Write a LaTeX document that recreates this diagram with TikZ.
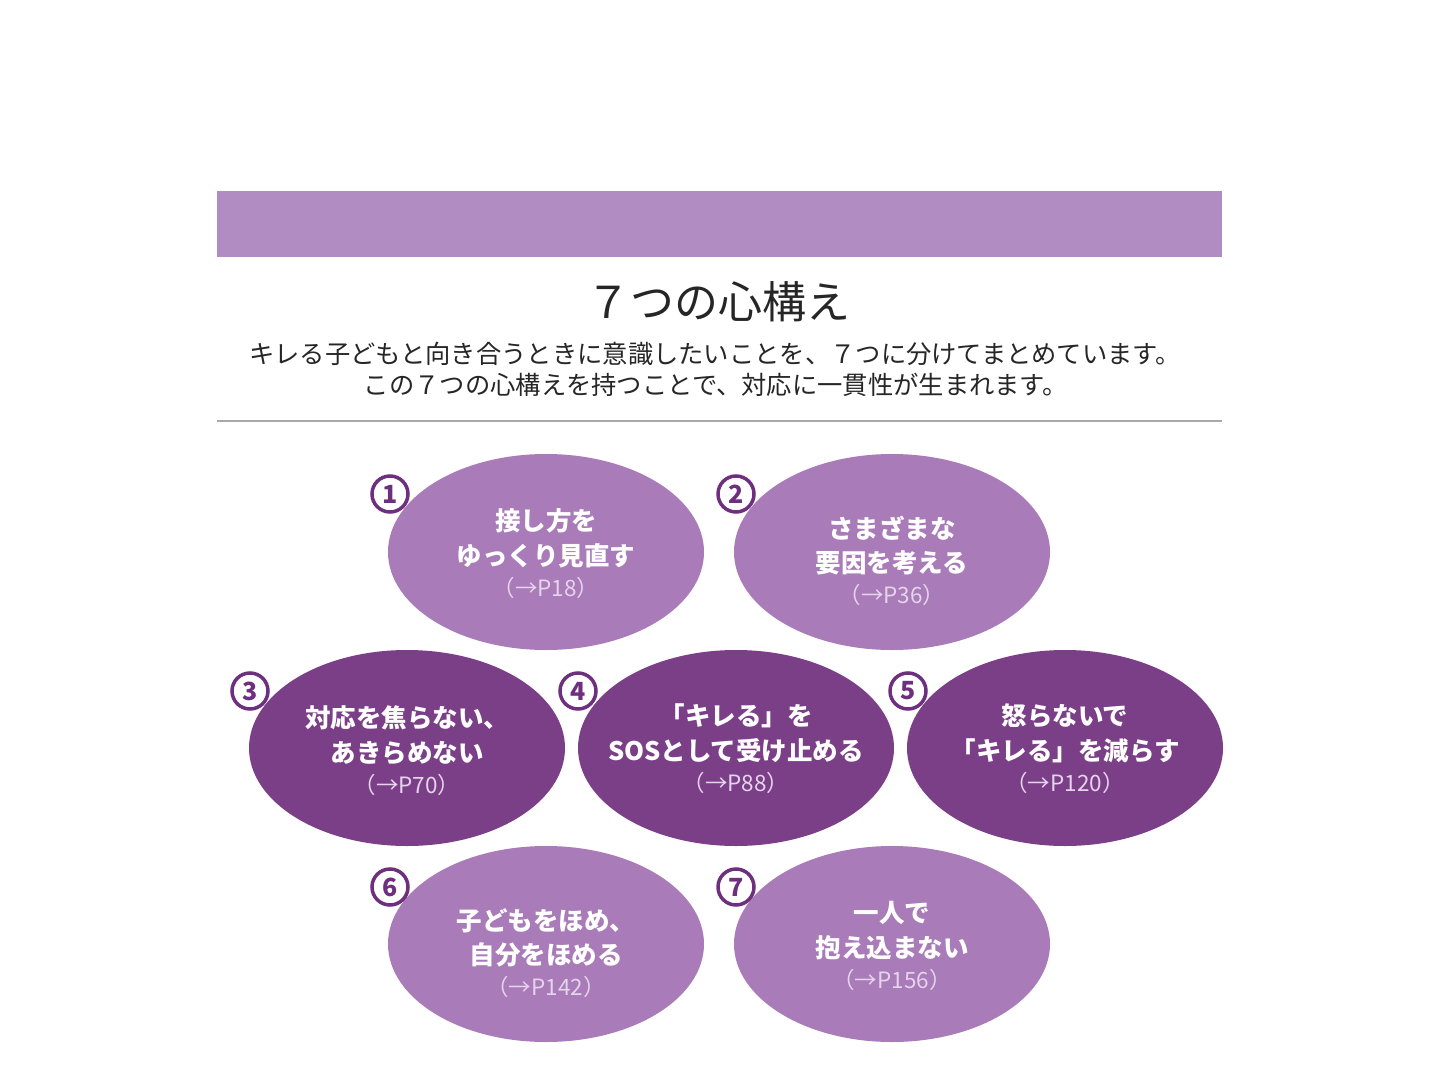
\documentclass[tikz,border=0pt]{standalone}
\usepackage{fontspec}
\setmainfont{Noto Sans CJK JP}
\usetikzlibrary{shapes.geometric}
\definecolor{barpurple}{HTML}{B08CC2}
\definecolor{lightpurple}{HTML}{A97BB8}
\definecolor{darkpurple}{HTML}{7B3F88}
\definecolor{numpurple}{HTML}{6E2F7E}
\definecolor{reftext}{HTML}{E6D4EC}
\definecolor{rulegrey}{HTML}{A8A8A8}
\tikzset{
  oval/.style={ellipse, minimum width=316pt, minimum height=196pt, inner sep=0pt},
  lightoval/.style={oval, fill=lightpurple},
  darkoval/.style={oval, fill=darkpurple},
  mainline/.style={text=white, font=\fontsize{25.5}{28}\selectfont\bfseries, inner sep=0pt},
  refline/.style={text=reftext, font=\fontsize{22.5}{24}\selectfont, inner sep=0pt},
  numbadge/.style={circle, draw=numpurple, line width=3.5pt, fill=white, minimum size=36pt, inner sep=0pt,
    text=numpurple, font=\fontsize{25}{25}\selectfont\bfseries},
}
\begin{document}
\begin{tikzpicture}[x=1pt,y=-1pt]
\useasboundingbox (0,0) rectangle (1440,1083);
\fill[white] (0,0) rectangle (1440,1083);
% header bar
\node[fill=barpurple, minimum width=1005pt, minimum height=66pt, inner sep=0pt, anchor=north west] (bar) at (217,191) {};
% title
\node[font=\fontsize{44}{48}\selectfont, text=black!85, inner sep=0pt] (title) at (718,302) {７つの心構え};
\node[font=\fontsize{25.3}{28}\selectfont, text=black!85, inner sep=0pt] (sub1) at (715,354) {キレる子どもと向き合うときに意識したいことを、７つに分けてまとめています。};
\node[font=\fontsize{25.3}{28}\selectfont, text=black!85, inner sep=0pt] (sub2) at (716,385) {この７つの心構えを持つことで、対応に一貫性が生まれます。};
% rule
\coordinate (ruleL) at (217,421);
\coordinate (ruleR) at (1222,421);
\draw[rulegrey, line width=2pt] (ruleL) -- (ruleR);

% ovals
\node[lightoval] (o1) at (546,552) {};
\node[lightoval] (o2) at (892,552) {};
\node[darkoval]  (o3) at (407,748) {};
\node[darkoval]  (o4) at (736,748) {};
\node[darkoval]  (o5) at (1065,748) {};
\node[lightoval] (o6) at (546,944) {};
\node[lightoval] (o7) at (892,944) {};

% texts
\node[mainline] (t1a) at ([yshift=31pt]o1.center) {接し方を};
\node[mainline] (t1b) at ([yshift=-4pt]o1.center) {ゆっくり見直す};
\node[refline]  (t1c) at ([yshift=-36pt]o1.center) {（→P18）};

\node[mainline] (t2a) at ([yshift=24pt]o2.center) {さまざまな};
\node[mainline] (t2b) at ([yshift=-11pt]o2.center) {要因を考える};
\node[refline]  (t2c) at ([yshift=-43pt]o2.center) {（→P36）};

\node[mainline] (t3a) at ([yshift=30pt]o3.center) {対応を焦らない、};
\node[mainline] (t3b) at ([yshift=-5pt]o3.center) {あきらめない};
\node[refline]  (t3c) at ([yshift=-37pt]o3.center) {（→P70）};

\node[mainline] (t4a) at ([yshift=32pt]o4.center) {「キレる」を};
\node[mainline] (t4b) at ([yshift=-3pt]o4.center) {SOSとして受け止める};
\node[refline]  (t4c) at ([yshift=-35pt]o4.center) {（→P88）};

\node[mainline] (t5a) at ([yshift=32pt]o5.center) {怒らないで};
\node[mainline] (t5b) at ([yshift=-3pt]o5.center) {「キレる」を減らす};
\node[refline]  (t5c) at ([yshift=-35pt]o5.center) {（→P120）};

\node[mainline] (t6a) at ([yshift=23pt]o6.center) {子どもをほめ、};
\node[mainline] (t6b) at ([yshift=-11pt]o6.center) {自分をほめる};
\node[refline]  (t6c) at ([yshift=-43pt]o6.center) {（→P142）};

\node[mainline] (t7a) at ([yshift=31pt]o7.center) {一人で};
\node[mainline] (t7b) at ([yshift=-4pt]o7.center) {抱え込まない};
\node[refline]  (t7c) at ([yshift=-36pt]o7.center) {（→P156）};

% number badges
\node[numbadge] (n1) at (390,494) {1};
\node[numbadge] (n2) at (736,494) {2};
\node[numbadge] (n3) at (250,691) {3};
\node[numbadge] (n4) at (578,691) {4};
\node[numbadge] (n5) at (908,691) {5};
\node[numbadge] (n6) at (390,887) {6};
\node[numbadge] (n7) at (736,887) {7};
\end{tikzpicture}
\end{document}
